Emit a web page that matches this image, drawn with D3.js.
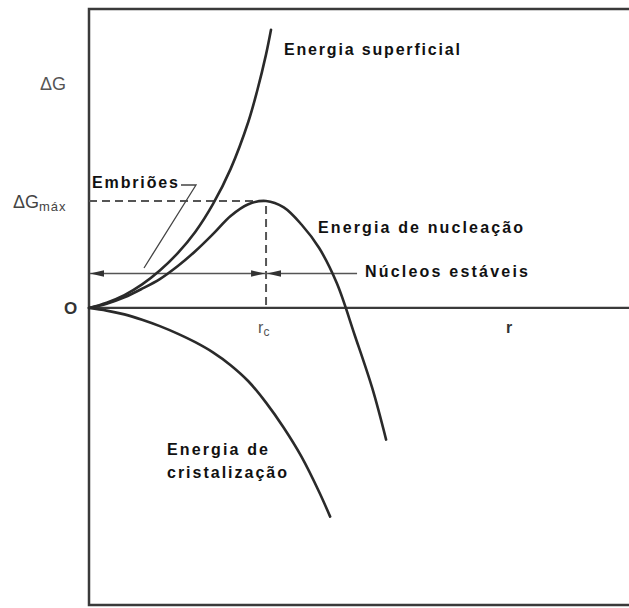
<!DOCTYPE html>
<html>
<head>
<meta charset="utf-8">
<script src="https://cdn.jsdelivr.net/npm/d3@7"></script>
<style>
  body { margin: 0; background: #fff; }
  svg { display: block; }
  text { font-family: "Liberation Sans", Arial, sans-serif; }
</style>
</head>
<body>
<div class="chart"></div>
<script>
// r in units of r_c, deltaG in units of deltaG_max
const surfR = [0, 0.1, 0.2, 0.3, 0.4, 0.5, 0.6, 0.7, 0.8, 0.9, 0.95, 1.0, 1.028];
const surfG = [0, 0.05, 0.12, 0.22, 0.35, 0.51, 0.71, 0.97, 1.30, 1.74, 2.03, 2.37, 2.60];

const nuclR = [0, 0.1, 0.2, 0.3, 0.4, 0.5, 0.6, 0.7, 0.8, 0.9, 1.0, 1.1, 1.2, 1.3, 1.4, 1.5, 1.6, 1.678];
const nuclG = [0, 0.04, 0.10, 0.18, 0.27, 0.39, 0.53, 0.69, 0.86, 0.97, 1.0, 0.94, 0.78, 0.56, 0.23, -0.25, -0.75, -1.23];

const crisR = [0, 0.1, 0.2, 0.3, 0.4, 0.5, 0.6, 0.7, 0.8, 0.9, 1.0, 1.1, 1.2, 1.3, 1.362];
const crisG = [0, -0.025, -0.06, -0.11, -0.17, -0.24, -0.32, -0.415, -0.535, -0.685, -0.885, -1.12, -1.39, -1.72, -1.95];

const rc = 1;
const gMax = 1;
const stableLevel = 0.322;   // level of the embryo / stable nuclei arrows
const stableEnd = 1.514;

const w = 629;
const h = 608;

const x = d3.scaleLinear().domain([0, 3.05]).range([89, 629]);
const y = d3.scaleLinear().domain([-2.776, 2.794]).range([605, 9]);

const svg = d3.select('.chart')
    .append('svg')
    .attr('width', w)
    .attr('height', h);

const defs = svg.append('defs');
defs.append('marker')
    .attr('id', 'arr')
    .attr('viewBox', '0 0 14 8')
    .attr('refX', 14)
    .attr('refY', 4)
    .attr('markerWidth', 14)
    .attr('markerHeight', 8)
    .attr('markerUnits', 'userSpaceOnUse')
    .attr('orient', 'auto-start-reverse')
    .append('path')
    .attr('d', 'M0,0.8 L14,4 L0,7.2 Z')
    .attr('fill', '#333');

// frame
svg.append('path')
    .attr('d', `M${x.range()[1]},${y.range()[1]} H${x(0)} V${y.range()[0]} H${x.range()[1]}`)
    .attr('fill', 'none')
    .attr('stroke', '#3a3a3a')
    .attr('stroke-width', 2.5);

// r axis
svg.append('line')
    .attr('x1', x(0)).attr('x2', x.range()[1])
    .attr('y1', y(0)).attr('y2', y(0))
    .attr('stroke', '#3a3a3a')
    .attr('stroke-width', 2.2);

// dashed guides for deltaG max and r_c
svg.append('path')
    .attr('d', `M${x(0)},${y(gMax)} H${x(rc)} V${y(0)}`)
    .attr('fill', 'none')
    .attr('stroke', '#555')
    .attr('stroke-width', 2)
    .attr('stroke-dasharray', '8,5');

// arrows
svg.append('line')
    .attr('x1', x(0) + 1).attr('x2', x(rc) - 1)
    .attr('y1', y(stableLevel)).attr('y2', y(stableLevel))
    .attr('stroke', '#555').attr('stroke-width', 1.6)
    .attr('marker-start', 'url(#arr)')
    .attr('marker-end', 'url(#arr)');

svg.append('line')
    .attr('x1', x(rc) + 1).attr('x2', x(stableEnd))
    .attr('y1', y(stableLevel)).attr('y2', y(stableLevel))
    .attr('stroke', '#555').attr('stroke-width', 1.6)
    .attr('marker-start', 'url(#arr)');

// curves
const line = d3.line()
    .x(d => x(d[0]))
    .y(d => y(d[1]))
    .curve(d3.curveCatmullRom.alpha(0.5));

const curves = [
  d3.zip(surfR, surfG),
  d3.zip(nuclR, nuclG),
  d3.zip(crisR, crisG)
];

svg.selectAll('path.curve')
    .data(curves)
    .enter()
    .append('path')
    .attr('class', 'curve')
    .attr('d', line)
    .attr('fill', 'none')
    .attr('stroke', '#2a2a2a')
    .attr('stroke-width', 2.6)
    .attr('stroke-linecap', 'round');

// embryo leader
svg.append('path')
    .attr('d', 'M181,185 H196 L144,268')
    .attr('fill', 'none')
    .attr('stroke', '#444')
    .attr('stroke-width', 1.3);

// bold labels
const labels = [
  {t: 'Energia superficial', x: 284, y: 55, len: 176},
  {t: 'Energia de nucleação', x: 318, y: 233, len: 205},
  {t: 'Núcleos estáveis', x: 365, y: 277, len: 163},
  {t: 'Energia de', x: 167, y: 455, len: 101},
  {t: 'cristalização', x: 167, y: 478, len: 120},
  {t: 'Embriões', x: 92, y: 188, len: 86}
];

svg.selectAll('text.lab')
    .data(labels)
    .enter()
    .append('text')
    .attr('class', 'lab')
    .attr('x', d => d.x)
    .attr('y', d => d.y)
    .attr('textLength', d => d.len)
    .attr('lengthAdjust', 'spacing')
    .attr('font-size', 16)
    .attr('font-weight', 'bold')
    .attr('fill', '#111')
    .text(d => d.t);

// axis labels
svg.append('text')
    .attr('x', 40).attr('y', 90)
    .attr('font-size', 18)
    .attr('fill', '#555')
    .text('ΔG');

const gm = svg.append('text')
    .attr('x', 13).attr('y', y(gMax) + 7)
    .attr('fill', '#444');
gm.append('tspan')
    .attr('font-size', 18)
    .text('ΔG');
gm.append('tspan')
    .attr('font-size', 13)
    .attr('dy', 3)
    .attr('letter-spacing', 1)
    .text('máx');

svg.append('text')
    .attr('x', 64).attr('y', y(0) + 6)
    .attr('font-size', 17)
    .attr('font-weight', 'bold')
    .attr('fill', '#333')
    .text('O');

const rct = svg.append('text')
    .attr('x', x(rc) - 8).attr('y', y(0) + 25)
    .attr('fill', '#555');
rct.append('tspan').attr('font-size', 16).text('r');
rct.append('tspan').attr('font-size', 12).attr('dy', 3).text('c');

svg.append('text')
    .attr('x', 506).attr('y', y(0) + 25)
    .attr('font-size', 16)
    .attr('font-weight', 'bold')
    .attr('fill', '#333')
    .text('r');
</script>
</body>
</html>
